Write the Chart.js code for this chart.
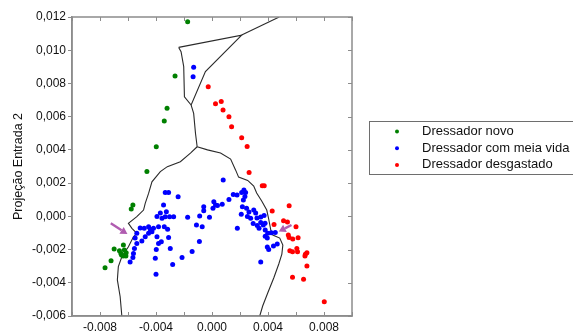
<!DOCTYPE html>
<html>
<head>
<meta charset="utf-8">
<script src="https://cdn.jsdelivr.net/npm/chart.js@4.4.0/dist/chart.umd.min.js"></script>
<style>
  html, body { margin: 0; padding: 0; background: #fff; }
  #wrap { position: relative; width: 573px; height: 333px; }
</style>
</head>
<body>
<div id="wrap"><canvas id="chart"></canvas></div>
<script>
// Series names and colours
const seriesNames = ['Dressador novo', 'Dressador com meia vida', 'Dressador desgastado'];
const seriesColors = ['#008000', '#0000ff', '#ff0000'];

// Points [x, y]
const novo = [
  [-1.74e-3, 11.72e-3], [-2.64e-3, 8.45e-3], [-3.21e-3, 6.50e-3], [-3.41e-3, 5.74e-3],
  [-3.98e-3, 4.19e-3], [-4.65e-3, 2.70e-3], [-5.65e-3, 0.68e-3], [-5.77e-3, 0.44e-3],
  [-6.99e-3, -1.97e-3], [-6.61e-3, -2.07e-3], [-6.33e-3, -1.73e-3], [-6.26e-3, -2.03e-3],
  [-6.51e-3, -2.23e-3], [-6.13e-3, -2.19e-3], [-6.35e-3, -2.39e-3], [-6.46e-3, -2.33e-3],
  [-6.15e-3, -2.39e-3], [-7.21e-3, -2.67e-3], [-7.64e-3, -3.09e-3]
];

const meiaVida = [
  [-1.31e-3, 8.97e-3], [-1.35e-3, 8.40e-3],
  [-3.34e-3, 1.44e-3], [-3.10e-3, 1.44e-3], [-2.42e-3, 1.18e-3], [-3.46e-3, 0.68e-3],
  [-3.69e-3, 0.20e-3], [-3.26e-3, 0.28e-3], [-3.93e-3, -0.01e-3], [-3.57e-3, -0.12e-3],
  [-3.34e-3, -0.02e-3], [-3.03e-3, -0.02e-3], [-2.74e-3, -0.02e-3], [-1.74e-3, -0.06e-3],
  [-5.13e-3, -0.70e-3], [-4.84e-3, -0.72e-3], [-4.53e-3, -0.63e-3], [-4.41e-3, -0.78e-3],
  [-4.18e-3, -0.72e-3], [-4.29e-3, -0.93e-3], [-4.53e-3, -1.02e-3], [-4.77e-3, -1.23e-3],
  [-5.01e-3, -1.49e-3], [-5.37e-3, -1.02e-3], [-5.49e-3, -1.31e-3], [-5.37e-3, -1.63e-3],
  [-5.54e-3, -1.93e-3], [-5.61e-3, -2.23e-3], [-5.65e-3, -2.48e-3], [-5.85e-3, -2.75e-3],
  [-3.82e-3, -0.63e-3], [-3.41e-3, -0.63e-3], [-3.17e-3, -0.78e-3], [-3.93e-3, -1.23e-3],
  [-3.10e-3, -1.28e-3], [-3.62e-3, -1.53e-3], [-3.82e-3, -1.63e-3], [-3.98e-3, -2.00e-3],
  [-2.98e-3, -1.93e-3], [-4.05e-3, -2.53e-3], [-2.81e-3, -2.90e-3], [-2.14e-3, -2.48e-3],
  [-1.42e-3, -2.12e-3], [-0.90e-3, -1.52e-3], [-4.00e-3, -3.49e-3],
  [-1.11e-3, -0.52e-3], [-0.88e-3, 0.02e-3], [-0.70e-3, -0.63e-3], [-0.18e-3, -0.06e-3],
  [-0.59e-3, 0.58e-3], [-0.59e-3, 0.34e-3], [0.13e-3, 0.88e-3], [0.25e-3, 0.68e-3],
  [0.07e-3, 0.48e-3], [0.39e-3, 0.65e-3], [0.73e-3, 0.72e-3], [1.21e-3, 1.01e-3],
  [0.80e-3, 2.19e-3], [1.52e-3, 1.32e-3], [1.79e-3, 1.28e-3], [2.12e-3, 1.44e-3],
  [2.28e-3, 1.58e-3], [2.40e-3, 1.43e-3], [2.35e-3, 1.19e-3], [2.24e-3, 0.98e-3],
  [2.17e-3, 0.58e-3], [2.47e-3, 0.48e-3], [2.64e-3, 0.26e-3], [2.98e-3, 0.38e-3],
  [3.12e-3, 0.20e-3], [2.09e-3, 0.13e-3], [2.53e-3, -0.01e-3], [2.76e-3, -0.12e-3],
  [3.21e-3, -0.10e-3], [3.48e-3, -0.04e-3], [3.72e-3, 0.05e-3], [2.94e-3, -0.43e-3],
  [3.23e-3, -0.55e-3], [3.48e-3, -0.37e-3], [3.66e-3, -0.52e-3], [3.79e-3, -0.42e-3],
  [3.36e-3, -0.72e-3], [1.81e-3, -0.72e-3], [3.80e-3, -0.82e-3], [3.98e-3, -1.02e-3],
  [3.80e-3, -1.20e-3], [3.95e-3, -1.31e-3], [4.23e-3, -0.99e-3], [4.52e-3, -0.98e-3],
  [3.95e-3, -1.85e-3], [4.05e-3, -1.99e-3], [4.39e-3, -1.78e-3], [4.66e-3, -1.67e-3],
  [3.48e-3, -2.75e-3]
];

const desgastado = [
  [-0.27e-3, 7.80e-3], [0.25e-3, 6.78e-3], [0.66e-3, 6.91e-3], [0.79e-3, 6.40e-3],
  [1.21e-3, 6.00e-3], [1.40e-3, 5.39e-3], [2.12e-3, 4.73e-3], [2.51e-3, 4.21e-3],
  [2.65e-3, 2.64e-3], [3.59e-3, 1.84e-3], [3.73e-3, 1.84e-3], [4.30e-3, 0.32e-3],
  [4.43e-3, -0.49e-3], [5.11e-3, -0.26e-3], [5.39e-3, -0.34e-3], [5.51e-3, 0.64e-3],
  [6.00e-3, -0.63e-3], [5.45e-3, -1.13e-3], [5.51e-3, -1.28e-3], [5.77e-3, -1.37e-3],
  [6.15e-3, -1.29e-3], [5.56e-3, -2.07e-3], [5.75e-3, -2.13e-3], [6.06e-3, -1.93e-3],
  [6.11e-3, -2.13e-3], [6.67e-3, -2.29e-3], [6.78e-3, -2.19e-3], [6.64e-3, -2.39e-3],
  [6.78e-3, -2.99e-3], [5.75e-3, -3.67e-3], [6.54e-3, -3.79e-3], [8.02e-3, -5.14e-3]
];

// Decision boundaries [x, y]
const fronteiraTopo = [[2.12e-3, 10.91e-3], [4.80e-3, 12.0e-3]];
const fronteiraIlha = [
  [-2.38e-3, 10.17e-3], [2.12e-3, 10.91e-3], [-0.47e-3, 8.71e-3], [-1.49e-3, 6.70e-3],
  [-1.97e-3, 7.20e-3], [-2.02e-3, 9.01e-3], [-2.21e-3, 9.91e-3], [-2.38e-3, 10.17e-3]
];
const fronteiraCentro = [[-1.49e-3, 6.70e-3], [-1.31e-3, 6.20e-3], [-1.18e-3, 5.00e-3], [-1.06e-3, 4.19e-3]];
const fronteiraEsq = [
  [-1.06e-3, 4.19e-3], [-1.54e-3, 3.81e-3], [-2.26e-3, 3.29e-3], [-3.19e-3, 2.99e-3],
  [-3.69e-3, 2.69e-3], [-4.29e-3, 2.08e-3], [-4.53e-3, 1.38e-3], [-4.77e-3, 0.78e-3],
  [-4.89e-3, 0.38e-3], [-5.37e-3, -0.02e-3], [-5.97e-3, -0.42e-3], [-5.72e-3, -0.72e-3],
  [-5.37e-3, -1.02e-3], [-5.61e-3, -1.23e-3], [-5.97e-3, -1.83e-3], [-6.44e-3, -2.43e-3],
  [-6.69e-3, -3.03e-3], [-6.76e-3, -3.83e-3], [-6.56e-3, -4.84e-3], [-6.44e-3, -6.0e-3]
];
const fronteiraDir = [
  [-1.06e-3, 4.19e-3], [-0.32e-3, 4.00e-3], [0.61e-3, 3.81e-3], [1.33e-3, 3.45e-3],
  [1.69e-3, 2.78e-3], [1.90e-3, 2.36e-3], [2.55e-3, 2.16e-3], [2.98e-3, 1.82e-3],
  [3.19e-3, 1.40e-3], [3.55e-3, 0.92e-3], [3.91e-3, 0.38e-3], [4.05e-3, -0.16e-3],
  [4.20e-3, -0.83e-3], [4.34e-3, -1.13e-3], [4.84e-3, -1.31e-3], [5.06e-3, -1.73e-3],
  [4.99e-3, -2.27e-3], [4.77e-3, -2.87e-3], [4.41e-3, -3.71e-3], [3.98e-3, -4.62e-3],
  [3.62e-3, -5.40e-3], [3.41e-3, -6.0e-3]
];

// Arrows [xFrom, yFrom, xTo, yTo]
const setas = [
  [-7.23e-3, -0.42e-3, -6.04e-3, -1.07e-3],
  [5.68e-3, -0.52e-3, 4.77e-3, -0.92e-3]
];

// Tick labels
const xTickLabels = ['', '-0.008', '', '-0.004', '', '0.000', '', '0.004', '', '0.008', ''];
const yTickLabels = ['-0,006', '-0,004', '-0,002', '0,000', '0,002', '0,004', '0,006', '0,008', '0,010', '0,012'];

const toXY = arr => arr.map(p => ({ x: p[0], y: p[1] }));
const FONT = 'Liberation Sans, Arial, Helvetica, sans-serif';
const AXIS_GRAY = '#8c8c8c';

Chart.defaults.font.family = FONT;
Chart.defaults.color = '#111';

function pointSet(label, data, color) {
  return {
    type: 'scatter', label, data: toXY(data),
    backgroundColor: color, borderWidth: 0, pointRadius: 2.5
  };
}
function lineSet(data) {
  return {
    type: 'line', label: '', data: toXY(data), showLine: true,
    borderColor: '#2a2a2a', borderWidth: 1.1, pointRadius: 0, fill: false, tension: 0
  };
}

// inward ticks + box frame
const framePlugin = {
  id: 'frame',
  afterDraw(chart) {
    const { ctx, chartArea: a, scales } = chart;
    ctx.save();
    ctx.strokeStyle = AXIS_GRAY;
    ctx.lineWidth = 1.5;
    ctx.strokeRect(a.left, a.top, a.right - a.left, a.bottom - a.top);
    ctx.lineWidth = 1;
    ctx.beginPath();
    scales.x.ticks.forEach(t => {
      const px = Math.round(scales.x.getPixelForValue(t.value)) + 0.5;
      ctx.moveTo(px, a.top); ctx.lineTo(px, a.top + 4);
      ctx.moveTo(px, a.bottom); ctx.lineTo(px, a.bottom - 4);
    });
    scales.y.ticks.forEach(t => {
      const py = Math.round(scales.y.getPixelForValue(t.value)) + 0.5;
      ctx.moveTo(a.right, py); ctx.lineTo(a.right - 4, py);
    });
    ctx.stroke();
    ctx.restore();
  }
};

const arrowPlugin = {
  id: 'arrows',
  afterDatasetsDraw(chart) {
    const { ctx, scales } = chart;
    ctx.save();
    ctx.strokeStyle = '#b05cb0';
    ctx.fillStyle = '#b05cb0';
    ctx.lineWidth = 2.4;
    setas.forEach(s => {
      const x0 = scales.x.getPixelForValue(s[0]), y0 = scales.y.getPixelForValue(s[1]);
      const x1 = scales.x.getPixelForValue(s[2]), y1 = scales.y.getPixelForValue(s[3]);
      const ang = Math.atan2(y1 - y0, x1 - x0);
      const head = 7, half = 4;
      const bx = x1 - head * Math.cos(ang), by = y1 - head * Math.sin(ang);
      ctx.beginPath();
      ctx.moveTo(x0, y0); ctx.lineTo(bx, by);
      ctx.stroke();
      ctx.beginPath();
      ctx.moveTo(x1, y1);
      ctx.lineTo(bx + half * Math.sin(ang), by - half * Math.cos(ang));
      ctx.lineTo(bx - half * Math.sin(ang), by + half * Math.cos(ang));
      ctx.closePath();
      ctx.fill();
    });
    ctx.restore();
  }
};

const legendPlugin = {
  id: 'boxLegend',
  afterDraw(chart) {
    const { ctx, chartArea: a } = chart;
    const left = a.right + 17, top = a.top + 104, rowH = 16.7;
    ctx.save();
    ctx.fillStyle = '#fff';
    ctx.fillRect(left, top, 220, 53);
    ctx.strokeStyle = '#6e6e6e';
    ctx.lineWidth = 1;
    ctx.strokeRect(left + 0.5, top + 0.5, 220, 53);
    ctx.font = '13px ' + FONT;
    ctx.textBaseline = 'middle';
    chart.data.datasets.slice(0, 3).forEach((ds, i) => {
      const cy = top + 10.5 + i * rowH;
      ctx.fillStyle = ds.backgroundColor;
      ctx.beginPath();
      ctx.arc(left + 28, cy, 2, 0, Math.PI * 2);
      ctx.fill();
      ctx.fillStyle = '#111';
      ctx.fillText(ds.label, left + 53, cy);
    });
    ctx.restore();
  }
};

new Chart(document.getElementById('chart'), {
  type: 'scatter',
  data: {
    datasets: [
      pointSet(seriesNames[0], novo, seriesColors[0]),
      pointSet(seriesNames[1], meiaVida, seriesColors[1]),
      pointSet(seriesNames[2], desgastado, seriesColors[2]),
      lineSet(fronteiraTopo),
      lineSet(fronteiraIlha),
      lineSet(fronteiraCentro),
      lineSet(fronteiraEsq),
      lineSet(fronteiraDir)
    ]
  },
  options: {
    responsive: true,
    maintainAspectRatio: false,
    animation: false,
    events: [],
    layout: { padding: { left: 0, right: 221, top: 17, bottom: 0 } },
    plugins: { legend: { display: false }, tooltip: { enabled: false } },
    scales: {
      x: {
        type: 'linear', min: -0.010, max: 0.010,
        afterFit: s => { s.height = 17; },
        grid: { display: true, drawOnChartArea: false, drawTicks: false },
        border: { display: true, color: AXIS_GRAY, width: 1.5 },
        ticks: {
          stepSize: 0.002, autoSkip: false, maxRotation: 0, padding: 4,
          font: { size: 12 }, color: '#111',
          callback: (v, i) => xTickLabels[i]
        }
      },
      y: {
        type: 'linear', min: -0.006, max: 0.012,
        afterFit: s => { s.width = 72; },
        grid: { display: true, drawOnChartArea: false, drawTicks: true, tickLength: 4, color: AXIS_GRAY },
        border: { display: true, color: AXIS_GRAY, width: 1.5 },
        title: {
          display: true, text: 'Projeção Entrada 2',
          font: { size: 12.5 }, color: '#111',
          padding: { top: 11, bottom: 0 }
        },
        ticks: {
          stepSize: 0.002, autoSkip: false, padding: 2,
          font: { size: 12 }, color: '#111',
          callback: (v, i) => yTickLabels[i]
        }
      }
    }
  },
  plugins: [framePlugin, arrowPlugin, legendPlugin]
});
</script>
</body>
</html>
